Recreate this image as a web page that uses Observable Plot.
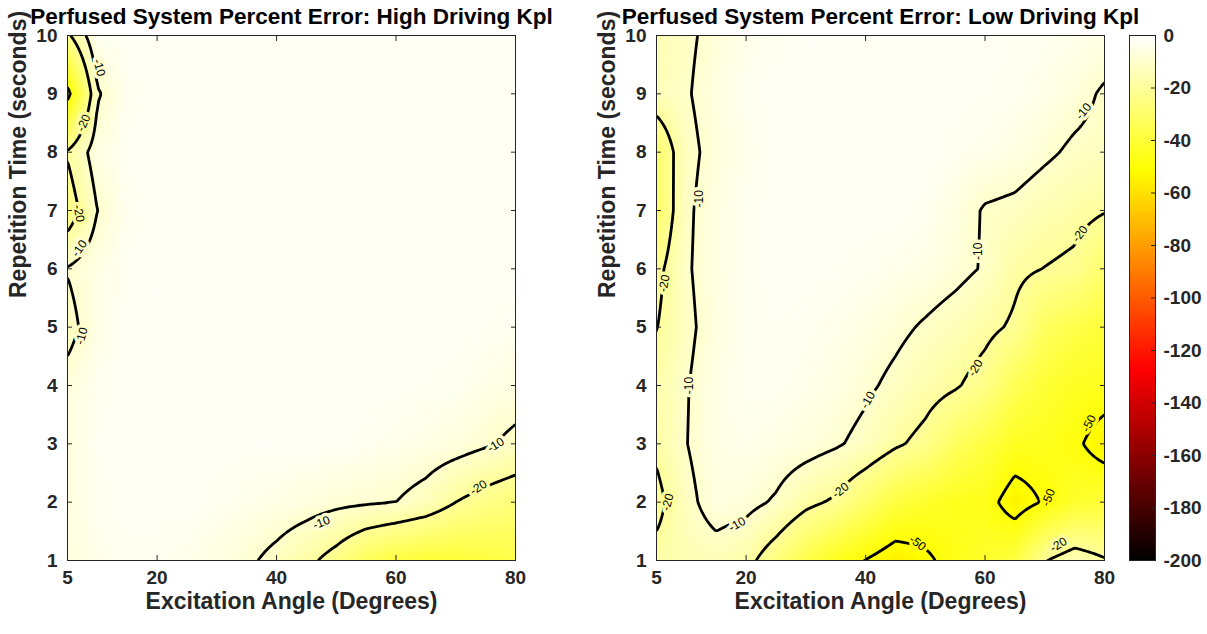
<!DOCTYPE html>
<html><head><meta charset="utf-8">
<script src="https://cdn.jsdelivr.net/npm/d3@7"></script>
<script src="https://cdn.jsdelivr.net/npm/@observablehq/plot@0.6"></script>
<style>
body{margin:0;background:#fff;font-family:"Liberation Sans",Arial,sans-serif;}
#wrap{position:relative;width:1207px;height:634px;overflow:hidden;}
.panel{position:absolute;top:0;}
</style></head><body><div id="wrap"></div>
<script>
// Excitation angle (degrees) and repetition time (seconds) sample grid
const angles = [5,10,15,20,25,30,35,40,45,50,55,60,65,70,75,80];
const times = [1,2,3,4,5,6,7,8,9,10];

// Percent error, High driving Kpl (rows = times 1..10, columns = angles)
const highKpl = [
  [-7,-4,-3,-3,-4,-6,-8.5,-12.5,-17.5,-24,-33,-38,-40,-40,-38,-36],
  [-6.5,-3,-2,-2,-2,-3,-4,-5,-6.5,-8,-9,-10,-13.5,-20,-24,-27],
  [-6.5,-2.5,-2,-2,-2,-2,-2,-2,-2,-2,-3,-4,-5,-6.5,-9,-12],
  [-7,-3,-2,-2,-2,-2,-2,-2,-2,-2,-2,-2,-2.5,-3,-4.5,-6],
  [-13,-5,-2,-2,-2,-2,-2,-2,-2,-2,-2,-2,-2,-2,-2.5,-3],
  [-9.5,-5,-2.5,-2,-2,-2,-2,-2,-2,-2,-2,-2,-2,-2,-2,-2],
  [-26,-10,-3,-2,-2,-2,-2,-2,-2,-2,-2,-2,-2,-2,-2,-2],
  [-19,-5.5,-2.5,-2,-2,-2,-2,-2,-2,-2,-2,-2,-2,-2,-2,-2],
  [-54,-11,-3,-2,-2,-2,-2,-2,-2,-2,-2,-2,-2,-2,-2,-2],
  [-22,-2.5,-2,-2,-2,-2,-2,-2,-2,-2,-2,-2,-2,-2,-2,-2]
];

// Percent error, Low driving Kpl
const lowKpl = [
  [-17,-15,-14,-17,-26,-36,-45,-50.3,-56,-52,-46,-42,-38,-20.5,-14,-19],
  [-23,-12.5,-6,-7.5,-11,-17.5,-21.5,-30,-38,-42,-45,-46,-55,-49,-42,-40],
  [-18,-10.2,-5,-4,-5,-6.5,-9,-12.5,-18.5,-23,-32,-38,-44,-45,-48,-55],
  [-17,-10.5,-5,-3,-3,-4,-5.5,-8.5,-12,-16,-19,-24,-34,-40,-44,-45],
  [-20.3,-12,-6,-3,-2.5,-3,-4,-5.5,-8,-11,-14,-17.5,-21.5,-32,-36,-40],
  [-23,-11,-5.5,-3,-2,-2,-2.5,-3,-4,-5,-7.5,-10.8,-18,-20.2,-22,-30],
  [-31,-11.5,-5.5,-3,-2,-2,-2,-2,-2,-3,-6,-10.8,-12,-15,-17,-19.5],
  [-30,-12.5,-7,-4,-2.5,-2,-2,-2,-2,-2,-3,-4,-5.5,-8.5,-11.5,-12.5],
  [-14,-10.8,-6,-3,-2,-2,-2,-2,-2,-2,-2,-2.5,-3,-4.5,-7,-11.2],
  [-15,-11.5,-7.5,-4,-3,-2,-2,-2,-2,-2,-2,-2,-2.5,-3,-4,-5]
];

const levels = [-50, -20, -10];
const xTicks = [5, 20, 40, 60, 80];
const yTicks = [1,2,3,4,5,6,7,8,9,10];
const barTicks = [0,-20,-40,-60,-80,-100,-120,-140,-160,-180,-200];

// inline contour labels
const highLabels = [
  {x:10.3, y:9.45, t:"-10", r:75},
  {x:7.7, y:8.5, t:"-20", r:-65},
  {x:6.9, y:6.95, t:"-20", r:80},
  {x:7.0, y:6.35, t:"-10", r:-55},
  {x:7.4, y:4.85, t:"-10", r:-75},
  {x:47.5, y:1.65, t:"-10", r:-22},
  {x:73.8, y:2.25, t:"-20", r:-32},
  {x:76.7, y:2.98, t:"-10", r:-32}
];
const lowLabels = [
  {x:12.1, y:7.2, t:"-10", r:-90},
  {x:6.3, y:5.75, t:"-20", r:-80},
  {x:10.4, y:4.0, t:"-10", r:-90},
  {x:6.9, y:2.0, t:"-20", r:-75},
  {x:18.5, y:1.62, t:"-10", r:-30},
  {x:35.8, y:2.2, t:"-20", r:-38},
  {x:40.4, y:3.75, t:"-10", r:-60},
  {x:58.4, y:4.3, t:"-20", r:-58},
  {x:58.8, y:6.3, t:"-10", r:-90},
  {x:76.5, y:8.7, t:"-10", r:-50},
  {x:75.9, y:6.6, t:"-20", r:-52},
  {x:48.7, y:1.3, t:"-50", r:38},
  {x:70.6, y:2.08, t:"-50", r:-68},
  {x:77.4, y:3.35, t:"-50", r:-62},
  {x:72.3, y:1.27, t:"-20", r:-32}
];

const titles = ["Perfused System Percent Error: High Driving Kpl", "Perfused System Percent Error: Low Driving Kpl"];
const xLabel = "Excitation Angle (Degrees)";
const yLabel = "Repetition Time (seconds)";

// flipped MATLAB "hot" colormap on [-200, 0]
const colorOpts = {type: "linear", domain: [-200, -127, -51, 0], range: ["#000000", "#ff0000", "#ffff00", "#ffffff"], interpolate: "rgb", clamp: true};
const hot = Plot.scale({color: colorOpts});

const FONT = "'Liberation Sans', Arial, Helvetica, sans-serif";
const INK = "#262626";

// bilinear interpolation of the gridded samples (clamped at the grid's edges), like shading interp
function bilinear(index, width, height, X, Y, V) {
  const xs = [...new Set(Array.from(index, i => X[i]))].sort((a, b) => a - b);
  const ys = [...new Set(Array.from(index, i => Y[i]))].sort((a, b) => a - b);
  const nx = xs.length;
  const G = new Float64Array(nx * ys.length).fill(NaN);
  for (const i of index) G[ys.indexOf(Y[i]) * nx + xs.indexOf(X[i])] = V[i];
  const locate = (arr, v) => {
    const c = Math.max(arr[0], Math.min(arr[arr.length - 1], v));
    let k = d3.bisectRight(arr, c) - 1;
    k = Math.max(0, Math.min(arr.length - 2, k));
    return [k, (c - arr[k]) / (arr[k + 1] - arr[k])];
  };
  const cols = Array.from({length: width}, (_, px) => locate(xs, px + 0.5));
  const out = new Float64Array(width * height);
  for (let py = 0; py < height; ++py) {
    const [j, u] = locate(ys, py + 0.5);
    for (let px = 0; px < width; ++px) {
      const [k, t] = cols[px];
      const a = G[j * nx + k], b = G[j * nx + k + 1], c = G[(j + 1) * nx + k], d = G[(j + 1) * nx + k + 1];
      out[py * width + px] = (a * (1 - t) + b * t) * (1 - u) + (c * (1 - t) + d * t) * u;
    }
  }
  return out;
}

function panel(grid, labels, title) {
  const pts = times.flatMap((t, i) => angles.map((a, j) => ({x: a, y: t, v: grid[i][j]})));
  return Plot.plot({
    width: 535, height: 634,
    marginLeft: 67, marginRight: 20, marginTop: 35, marginBottom: 74,
    style: {background: "transparent", overflow: "visible", fontFamily: FONT},
    x: {domain: [5, 80]},
    y: {domain: [1, 10]},
    color: colorOpts,
    marks: [
      Plot.raster(pts, {x: "x", y: "y", fill: "v", interpolate: bilinear}),
      Plot.contour(pts, {x: "x", y: "y", value: "v", interpolate: bilinear, thresholds: levels,
        x1: 2, x2: 83, y1: 0.7, y2: 10.3, clip: true,
        stroke: "black", strokeWidth: 2.8, fill: "none", strokeLinejoin: "round"}),
      Plot.text(labels, {x: "x", y: "y", text: "t", rotate: "r", fontSize: 12, fill: "black",
        stroke: d => hot.apply(+d.t), strokeWidth: 7, paintOrder: "stroke"}),
      Plot.frame({stroke: INK}),
      Plot.axisX({anchor: "bottom", ticks: xTicks, tickSize: -5, tickPadding: 15, tickFormat: d => String(d),
        fontSize: 19, fontWeight: "bold", color: INK, label: null}),
      Plot.axisX({anchor: "top", ticks: xTicks, tickSize: -5, tickFormat: () => "", color: INK, label: null}),
      Plot.axisY({anchor: "left", ticks: yTicks, tickSize: -5, tickPadding: 15, tickFormat: d => String(d),
        fontSize: 19, fontWeight: "bold", color: INK, label: null}),
      Plot.axisY({anchor: "right", ticks: yTicks, tickSize: -5, tickFormat: () => "", color: INK, label: null}),
      Plot.text([title], {frameAnchor: "top", dy: -27, fontSize: 22.5, fontWeight: "bold", fill: "black"}),
      Plot.text([xLabel], {frameAnchor: "bottom", dy: 48, fontSize: 23, fontWeight: "bold", fill: INK}),
      Plot.text([yLabel], {frameAnchor: "left", dx: -49, rotate: -90, fontSize: 23, fontWeight: "bold", fill: INK})
    ]
  });
}

function colorbar() {
  return Plot.plot({
    width: 107, height: 634,
    marginLeft: 29, marginRight: 52, marginTop: 35, marginBottom: 74,
    style: {background: "transparent", overflow: "visible", fontFamily: FONT},
    x: {domain: [0, 1], axis: null},
    y: {domain: [-200, 0]},
    color: colorOpts,
    marks: [
      Plot.raster({fill: (x, y) => y, x1: 0, x2: 1, y1: -200, y2: 0}),
      Plot.frame({stroke: INK}),
      Plot.axisY({anchor: "right", ticks: barTicks, tickSize: -5, tickPadding: 13, tickFormat: d => String(d),
        fontSize: 19, fontWeight: "bold", color: INK, label: null})
    ]
  });
}

const wrap = document.getElementById("wrap");
const place = (node, left) => { const d = document.createElement("div"); d.className = "panel"; d.style.left = left + "px"; d.appendChild(node); wrap.appendChild(d); };
place(panel(highKpl, highLabels, titles[0]), 0);
place(panel(lowKpl, lowLabels, titles[1]), 589);
place(colorbar(), 1100);
</script></body></html>
